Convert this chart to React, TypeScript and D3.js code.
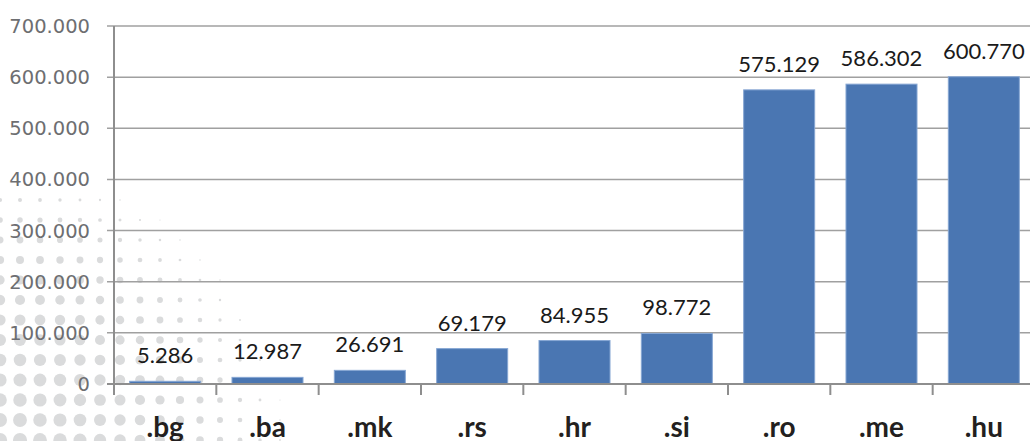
import * as d3 from 'd3';
import { type FC, useEffect, useRef } from 'react';

// Registered domains per ccTLD
const categories = ['.bg', '.ba', '.mk', '.rs', '.hr', '.si', '.ro', '.me', '.hu'];
const values = [5286, 12987, 26691, 69179, 84955, 98772, 575129, 586302, 600770];
const yTicks = [0, 100000, 200000, 300000, 400000, 500000, 600000, 700000];

const W = 1030;
const H = 441;

const App: FC = () => {
  const svgRef = useRef<SVGSVGElement>(null);

  useEffect(() => {
    if (!svgRef.current) return;
    const svg = d3.select(svgRef.current);
    svg.selectAll('*').remove();

    const locale = d3.formatLocale({
      decimal: ',',
      thousands: '.',
      grouping: [3],
      currency: ['', ''],
    });
    const fmt = locale.format(',d');

    const x0 = 114;
    const x1 = 1035;
    const yTop = 26;
    const yBase = 384;

    const x = d3
      .scaleBand<string>()
      .domain(categories)
      .range([x0, x1])
      .paddingInner(0.306)
      .paddingOuter(0.153);

    const y = d3.scaleLinear().domain([0, 700000]).range([yBase, yTop]);

    // Halftone dot decoration in the lower-left corner (background only)
    const dots: { cx: number; cy: number; r: number }[] = [];
    for (let cy = 200; cy < H + 20; cy += 20) {
      for (let cx = 0; cx < 340; cx += 20) {
        const d = Math.hypot(cx + 20, 470 - cy);
        const r = 7.2 * (1 - (d / 322) ** 2);
        if (r > 0.6) dots.push({ cx, cy, r });
      }
    }
    svg
      .append('g')
      .selectAll('circle')
      .data(dots)
      .join('circle')
      .attr('cx', (d) => d.cx)
      .attr('cy', (d) => d.cy)
      .attr('r', (d) => d.r)
      .attr('fill', '#dadbdc');

    // Grid lines
    svg
      .append('g')
      .selectAll('line')
      .data(yTicks.filter((t) => t > 0))
      .join('line')
      .attr('x1', x0 - 7)
      .attr('x2', W)
      .attr('y1', (d) => y(d))
      .attr('y2', (d) => y(d))
      .attr('stroke', '#a0a0a0')
      .attr('stroke-width', 1.5);

    // Y labels
    svg
      .append('g')
      .selectAll('text')
      .data(yTicks)
      .join('text')
      .attr('x', 90)
      .attr('y', (d) => y(d))
      .attr('dy', '0.36em')
      .attr('text-anchor', 'end')
      .attr('font-family', 'DejaVu Sans, sans-serif')
      .attr('font-size', 19.5)
      .attr('fill', '#6d6e71')
      .text((d) => fmt(d));

    // Bars
    svg
      .append('g')
      .selectAll('rect')
      .data(values)
      .join('rect')
      .attr('x', (_, i) => x(categories[i]) || 0)
      .attr('width', x.bandwidth())
      .attr('y', (d) => y(d))
      .attr('height', (d) => yBase - y(d))
      .attr('fill', '#4a76b2')
      .attr('stroke', '#86a6d3')
      .attr('stroke-width', 1);

    // Value labels
    svg
      .append('g')
      .selectAll('text')
      .data(values)
      .join('text')
      .attr('x', (_, i) => (x(categories[i]) || 0) + x.bandwidth() / 2)
      .attr('y', (d) => y(d) - 18)
      .attr('text-anchor', 'middle')
      .attr('font-family', 'Lato, sans-serif')
      .attr('font-size', 22)
      .attr('fill', '#1a1a1a')
      .text((d) => fmt(d));

    // Axes
    const axisColor = '#8e8e8e';
    svg
      .append('line')
      .attr('x1', x0 - 7)
      .attr('x2', W)
      .attr('y1', yBase)
      .attr('y2', yBase)
      .attr('stroke', axisColor)
      .attr('stroke-width', 2);
    svg
      .append('line')
      .attr('x1', x0)
      .attr('x2', x0)
      .attr('y1', yTop)
      .attr('y2', yBase + 11)
      .attr('stroke', axisColor)
      .attr('stroke-width', 2);
    svg
      .append('g')
      .selectAll('line')
      .data(categories.slice(1))
      .join('line')
      .attr('x1', (d) => (x(d) || 0) - (x.step() - x.bandwidth()) / 2)
      .attr('x2', (d) => (x(d) || 0) - (x.step() - x.bandwidth()) / 2)
      .attr('y1', yBase)
      .attr('y2', yBase + 11)
      .attr('stroke', axisColor)
      .attr('stroke-width', 2);

    // Category labels
    svg
      .append('g')
      .selectAll('text')
      .data(categories)
      .join('text')
      .attr('x', (d) => (x(d) || 0) + x.bandwidth() / 2)
      .attr('y', 437)
      .attr('text-anchor', 'middle')
      .attr('font-family', 'Lato, sans-serif')
      .attr('font-weight', 'bold')
      .attr('font-size', 28)
      .attr('fill', '#231f20')
      .text((d) => d);
  }, []);

  return (
    <>
      <style>{'body{margin:0;}'}</style>
      <svg ref={svgRef} width={W} height={H} style={{ display: 'block', background: '#fff' }} />
    </>
  );
};

export default App;
